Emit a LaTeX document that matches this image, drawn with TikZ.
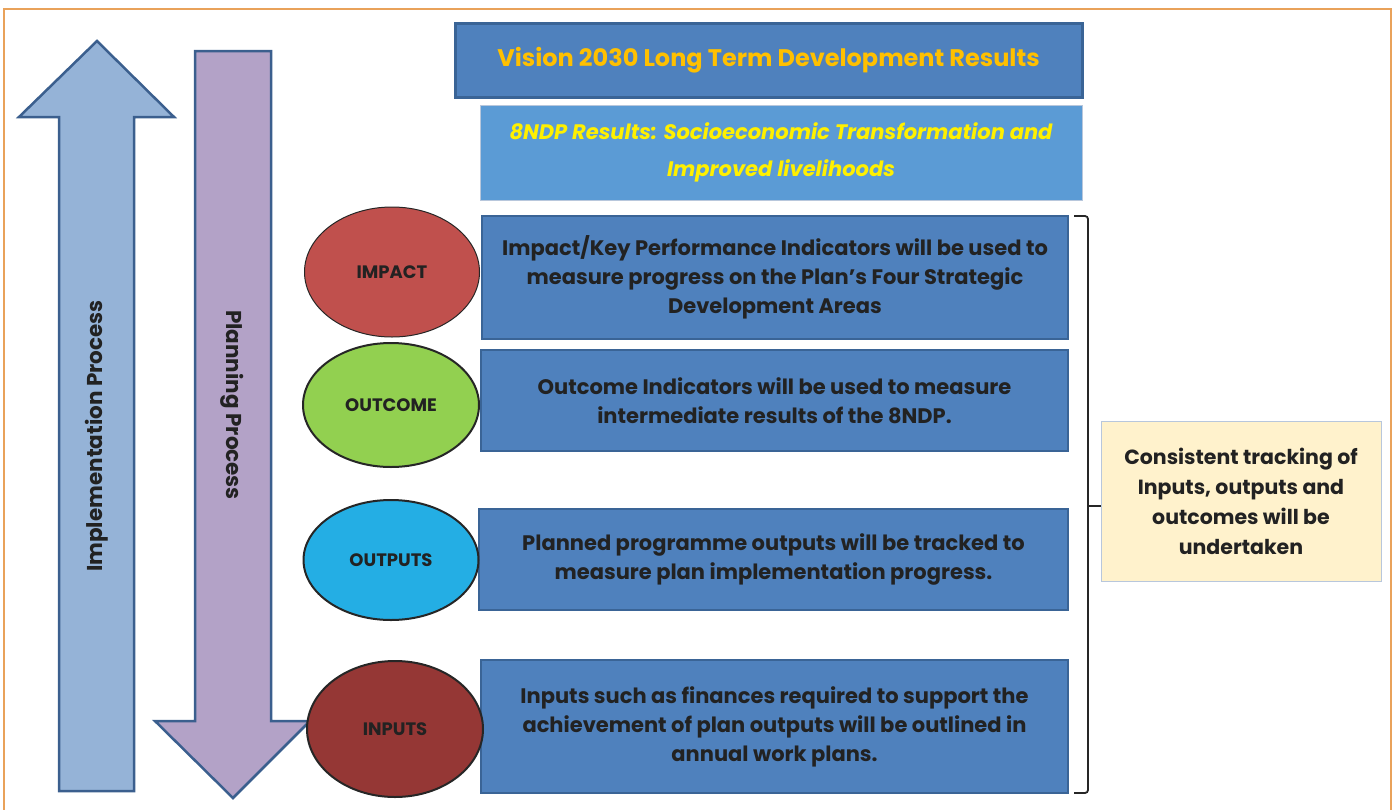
\documentclass[tikz,border=0pt]{standalone}
\usepackage{fontspec}
\setmainfont{Poppins}
\usetikzlibrary{shapes.geometric}
\definecolor{frameor}{HTML}{E9A25A}
\definecolor{upfill}{HTML}{95B3D7}
\definecolor{downfill}{HTML}{B3A2C7}
\definecolor{arrowedge}{HTML}{3B5F8E}
\definecolor{boxblue}{HTML}{4F81BD}
\definecolor{boxedge}{HTML}{3A6496}
\definecolor{lightblue}{HTML}{5B9BD5}
\definecolor{visiontxt}{HTML}{FFC000}
\definecolor{ndptxt}{HTML}{FFF000}
\definecolor{darktxt}{HTML}{222222}
\definecolor{impactred}{HTML}{C0504D}
\definecolor{outgreen}{HTML}{92D050}
\definecolor{outcyan}{HTML}{24AEE4}
\definecolor{inred}{HTML}{953735}
\definecolor{notefill}{HTML}{FFF2CC}
\definecolor{noteedge}{HTML}{B8C7DC}
\tikzset{
  bluebox/.style={draw=boxedge, line width=2pt, fill=boxblue, text=darktxt, align=center,
    font=\fontsize{21}{29}\selectfont\bfseries, inner sep=0pt},
  oval/.style={ellipse, draw=black!85, line width=2pt, inner sep=0pt, text=darktxt,
    font=\fontsize{18}{20}\selectfont\bfseries},
  bigarrow/.style={draw=arrowedge, line width=2.5pt, line join=miter},
  vlabel/.style={text=darktxt, font=\fontsize{21.5}{24}\selectfont\bfseries},
}
\begin{document}
\begin{tikzpicture}[x=1pt,y=-1pt]
\useasboundingbox (0,0) rectangle (1398,809);
% frame
\draw[frameor, line width=1.5pt] (4,830) -- (4,9) -- (1391,9) -- (1391,830);
% implementation arrow (up)
\draw[bigarrow, fill=upfill] (97,41) -- (174,117) -- (134,117) -- (134,791) -- (59,791) -- (59,117) -- (19,117) -- cycle;
\node[vlabel, rotate=90] (impl) at (97,436) {Implementation Process};
% planning arrow (down)
\draw[bigarrow, fill=downfill] (195,51) -- (271,51) -- (271,721) -- (310,721) -- (233,798) -- (155,721) -- (195,721) -- cycle;
\node[vlabel, rotate=-90] (plan) at (232,405) {Planning Process};
% top boxes
\node[draw=boxedge, line width=3pt, fill=boxblue, minimum width=627pt, minimum height=74pt, inner sep=0pt,
  text=visiontxt, font=\fontsize{24}{27}\selectfont\bfseries] (vision) at (768.5,60) {Vision 2030 Long Term Development Results};
\node[draw=noteedge, line width=1pt, fill=lightblue, minimum width=602pt, minimum height=95pt, inner sep=0pt,
  text=ndptxt, align=center, font=\fontsize{21}{37}\selectfont\bfseries\itshape] (ndp) at (781,152.5)
  {8NDP Results: Socioeconomic Transformation and\\Improved livelihoods};
% indicator boxes
\node[bluebox, minimum width=586pt, minimum height=123pt] (impbox) at (775,277.5)
  {Impact/Key Performance Indicators will be used to\\measure progress on the Plan’s Four Strategic\\Development Areas};
\node[bluebox, minimum width=587pt, minimum height=101pt] (outbox) at (774.5,400.5)
  {Outcome Indicators will be used to measure\\intermediate results of the 8NDP.};
\node[bluebox, minimum width=589pt, minimum height=101pt] (outpbox) at (773.5,559.5)
  {Planned programme outputs will be tracked to\\measure plan implementation progress.};
\node[bluebox, minimum width=587pt, minimum height=133pt] (inbox) at (774.5,726.5)
  {Inputs such as finances required to support the\\achievement of plan outputs will be outlined in\\annual work plans.};
% ovals
\node[oval, fill=impactred, line width=1pt, minimum width=175pt, minimum height=130pt] (impact) at (392,272) {IMPACT};
\node[oval, fill=outgreen, minimum width=176pt, minimum height=124pt] (outcome) at (391,405) {OUTCOME};
\node[oval, fill=outcyan, minimum width=175pt, minimum height=120pt] (outputs) at (391,560) {OUTPUTS};
\node[oval, fill=inred, minimum width=176pt, minimum height=136pt] (inputs) at (395,729) {INPUTS};
% note
\node[draw=noteedge, line width=1pt, fill=notefill, minimum width=280pt, minimum height=160pt, inner sep=0pt,
  text=darktxt, align=center, font=\fontsize{20.5}{30}\selectfont\bfseries] (note) at (1241,501)
  {Consistent tracking of\\Inputs, outputs and\\outcomes will be\\undertaken};
% brace
\coordinate (bt) at (1074,216);
\coordinate (bb) at (1074,793);
\draw[black!85, line width=1.8pt, rounded corners=3pt] (bt) -- (1088,216) -- (1088,506) -- (1088,793) -- (bb);
\draw[black!85, line width=2pt] (1088,506) -- ([yshift=-5pt]note.west);
\end{tikzpicture}
\end{document}
